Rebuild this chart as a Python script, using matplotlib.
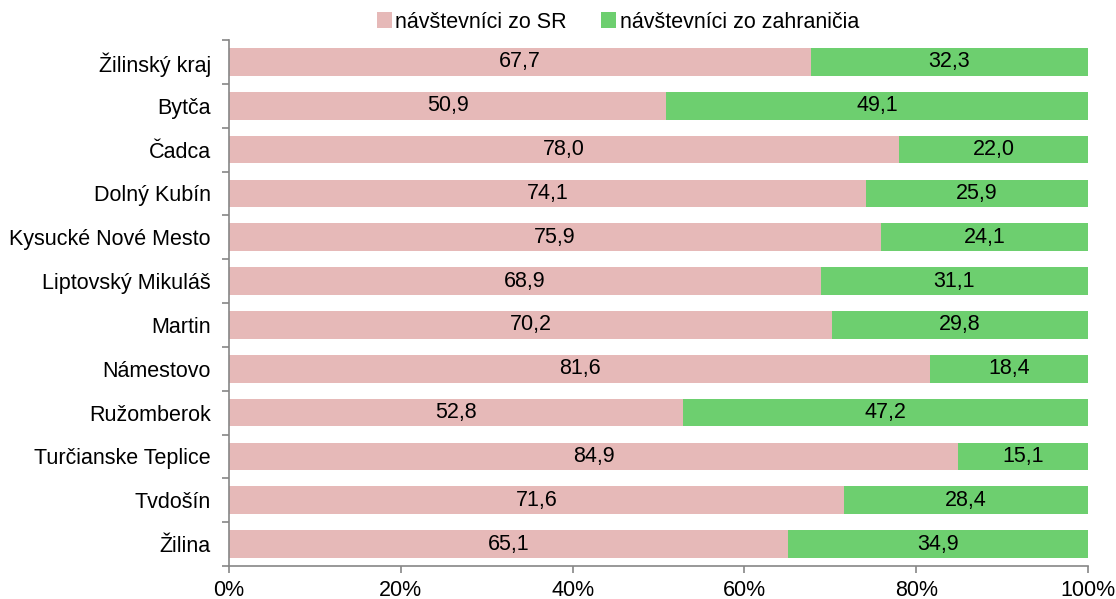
import numpy as np
import matplotlib.pyplot as plt
from matplotlib.ticker import FixedLocator

plt.rcParams['font.family'] = ['Liberation Sans', 'DejaVu Sans']

regions = ['Žilinský kraj', 'Bytča', 'Čadca', 'Dolný Kubín', 'Kysucké Nové Mesto',
           'Liptovský Mikuláš', 'Martin', 'Námestovo', 'Ružomberok',
           'Turčianske Teplice', 'Tvdošín', 'Žilina']
domestic = [67.7, 50.9, 78.0, 74.1, 75.9, 68.9, 70.2, 81.6, 52.8, 84.9, 71.6, 65.1]
foreign = [32.3, 49.1, 22.0, 25.9, 24.1, 31.1, 29.8, 18.4, 47.2, 15.1, 28.4, 34.9]

pink = '#E6B9B8'
green = '#6DCF6F'
gray = '#868686'
fs = 15.5

fig = plt.figure(figsize=(11.16, 5.99), dpi=100)
ax = fig.add_axes([229/1116, 1 - 566/599, (1088 - 229)/1116, (566 - 40)/599])

y = np.arange(len(regions))
h = 0.63
b1 = ax.barh(y, domestic, height=h, color=pink, label='návštevníci zo SR')
b2 = ax.barh(y, foreign, height=h, left=domestic, color=green, label='návštevníci zo zahraničia')

for bars, vals in ((b1, domestic), (b2, foreign)):
    ax.bar_label(bars, labels=[f'{v:.1f}'.replace('.', ',') for v in vals],
                 label_type='center', fontsize=fs, color='black')

ax.set_xlim(0, 100)
ax.set_ylim(len(regions) - 0.5, -0.5)
ax.set_xticks(np.arange(0, 101, 20))
ax.set_xticklabels([f'{v}%' for v in range(0, 101, 20)])
ax.set_yticks(y)
ax.set_yticklabels(regions)
ax.yaxis.set_minor_locator(FixedLocator(np.arange(-0.5, len(regions), 1)))

for s in ('top', 'right'):
    ax.spines[s].set_visible(False)
for s in ('left', 'bottom'):
    ax.spines[s].set_color(gray)
    ax.spines[s].set_linewidth(1.2)

ax.tick_params(axis='y', which='major', length=0, pad=13, labelsize=fs)
ax.tick_params(axis='y', which='minor', length=5, color=gray, width=1.2)
ax.tick_params(axis='x', length=5, color=gray, width=1.2, labelsize=fs, pad=5)

fig.legend(loc='center', bbox_to_anchor=(618/1116, 1 - 22/599), ncol=2, frameon=False,
           fontsize=fs, handlelength=0.7, handleheight=0.7, handletextpad=0.15,
           columnspacing=1.6)

fig.savefig('out.png', dpi=100)
